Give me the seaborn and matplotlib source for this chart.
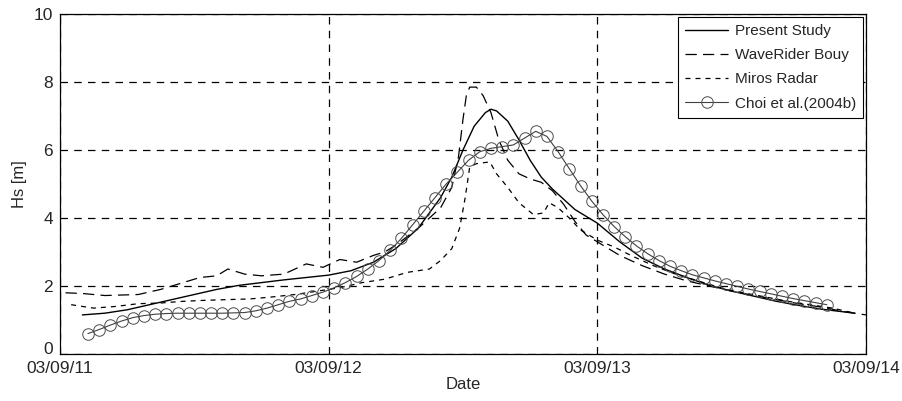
import numpy as np
import pandas as pd
import seaborn as sns
import matplotlib
matplotlib.use("Agg")
import matplotlib.pyplot as plt
import matplotlib.transforms as mtransforms

# hours after 03/09/11 00:00
tick_hours = [0, 24, 48, 72]
tick_labels = ["03/09/11", "03/09/12", "03/09/13", "03/09/14"]

present_h = [2, 4, 6, 8, 10, 12, 14, 16, 18, 20, 22, 24, 26, 28, 30, 32, 34,
             35, 36, 37, 38, 38.5, 39, 40, 41, 42, 43, 44, 45, 46, 48, 50, 52,
             54, 56, 58, 60, 62, 64, 66, 68, 70, 71]
present_hs = [1.15, 1.2, 1.3, 1.45, 1.6, 1.75, 1.9, 2.02, 2.1, 2.18, 2.25, 2.32,
              2.45, 2.7, 3.1, 3.7, 4.6, 5.2, 6.0, 6.7, 7.1, 7.2, 7.15, 6.85,
              6.3, 5.7, 5.2, 4.85, 4.55, 4.25, 3.85, 3.3, 2.82, 2.5, 2.25,
              2.02, 1.85, 1.7, 1.55, 1.43, 1.32, 1.24, 1.2]

bouy_h = [0.5, 2, 4, 5, 7, 9, 11, 12.5, 14, 15, 16.5, 18, 20, 22, 23.5, 25,
          26.5, 28, 29, 30, 31, 32, 33, 34, 35, 35.6, 36, 36.3, 36.6, 37.2,
          37.8, 38.5, 39.2, 40, 41, 42, 43, 44, 45, 46, 47, 48, 49, 50, 52,
          54, 56, 58, 60, 62, 64, 66, 68, 70, 72]
bouy_hs = [1.8, 1.78, 1.72, 1.73, 1.75, 1.9, 2.1, 2.25, 2.3, 2.5, 2.35, 2.3,
           2.35, 2.65, 2.55, 2.78, 2.7, 2.9, 3.0, 3.2, 3.45, 3.7, 4.0, 4.3,
           4.9, 5.8, 6.9, 7.6, 7.85, 7.85, 7.6, 7.1, 6.3, 5.7, 5.3, 5.15,
           5.05, 4.8, 4.4, 3.9, 3.5, 3.3, 3.1, 2.9, 2.6, 2.35, 2.15, 2.0,
           1.85, 1.72, 1.6, 1.48, 1.38, 1.25, 1.15]

miros_h = [1, 3, 5, 7, 9, 11, 13, 15, 17, 19, 21, 23, 25, 27, 29, 31, 33, 34,
           35, 35.7, 36.2, 36.6, 37.2, 38.4, 39, 40, 41, 42.3, 43.2, 43.7,
           44.5, 45.5, 46.5, 48, 49.5, 51, 53, 55, 57, 59, 61, 63, 65, 67, 69,
           71]
miros_hs = [1.45, 1.35, 1.4, 1.48, 1.5, 1.55, 1.58, 1.6, 1.62, 1.68, 1.75,
            1.85, 1.95, 2.1, 2.2, 2.4, 2.5, 2.75, 3.1, 3.7, 4.6, 5.5, 5.6,
            5.65, 5.3, 4.9, 4.45, 4.1, 4.15, 4.45, 4.3, 4.0, 3.65, 3.35, 3.15,
            2.9, 2.6, 2.35, 2.15, 1.95, 1.8, 1.68, 1.55, 1.45, 1.35, 1.2]

choi_h = [2.5 + i for i in range(67)]
choi_hs = [0.6, 0.72, 0.85, 0.97, 1.07, 1.13, 1.17, 1.19, 1.2, 1.2, 1.2, 1.2,
           1.2, 1.21, 1.22, 1.27, 1.35, 1.45, 1.55, 1.62, 1.72, 1.82, 1.95,
           2.1, 2.28, 2.5, 2.75, 3.05, 3.4, 3.8, 4.2, 4.6, 5.0, 5.35, 5.7,
           5.95, 6.05, 6.1, 6.15, 6.35, 6.55, 6.4, 5.95, 5.45, 4.95, 4.5, 4.1,
           3.75, 3.45, 3.18, 2.95, 2.75, 2.58, 2.45, 2.33, 2.24, 2.15, 2.07,
           1.99, 1.91, 1.84, 1.77, 1.7, 1.63, 1.57, 1.51, 1.45]

sns.set_style("white")
plt.rcParams["font.family"] = ["Liberation Sans", "DejaVu Sans"]

fig = plt.figure(figsize=(9.03, 4.01), dpi=100)
ax = fig.add_axes([0.0664, 0.1172, 0.8926, 0.8478])

sns.lineplot(x=present_h, y=present_hs, ax=ax, color="black", linewidth=1.0,
             label="Present Study")
sns.lineplot(x=bouy_h, y=bouy_hs, ax=ax, color="black", linewidth=0.9,
             linestyle=(0, (9, 5)), label="WaveRider Bouy")
sns.lineplot(x=miros_h, y=miros_hs, ax=ax, color="black", linewidth=0.9,
             linestyle=(0, (4, 4)), label="Miros Radar")
sns.lineplot(x=choi_h, y=choi_hs, ax=ax, color="0.25", linewidth=0.8,
             marker="o", markersize=8.3, markerfacecolor="none",
             markeredgecolor="0.3", markeredgewidth=0.7,
             label="Choi et al.(2004b)")

ax.set_xlim(0, 72)
ax.set_ylim(0, 10)
ax.set_xticks(tick_hours)
ax.set_xticklabels(tick_labels)
ax.set_yticks([0, 2, 4, 6, 8, 10])
ax.tick_params(direction="in", length=4, labelsize=12.5, color="black")
ax.tick_params(axis="x", pad=5)
ax.tick_params(axis="y", pad=5)
ax.grid(True, color="black", linestyle=(0, (6, 5)), linewidth=0.9)
for s in ax.spines.values():
    s.set_color("black")
    s.set_linewidth(0.9)

# lift the "0" a little so it clears the first date label
zero_lbl = ax.get_yticklabels()[0]
zero_lbl.set_transform(zero_lbl.get_transform() +
                       mtransforms.ScaledTranslation(0, 4 / 72, fig.dpi_scale_trans))

ax.set_xlabel("Date", fontsize=12, labelpad=1)
ax.set_ylabel("Hs [m]", fontsize=12, labelpad=5)

leg = ax.legend(loc="upper right", fontsize=11, frameon=True, fancybox=False,
                borderaxespad=0.2, handlelength=2.8, labelspacing=0.67,
                handletextpad=0.45, borderpad=0.45)
leg.get_frame().set_edgecolor("black")
leg.get_frame().set_linewidth(0.8)
leg.get_frame().set_alpha(1)

fig.savefig("out.png", dpi=100)
